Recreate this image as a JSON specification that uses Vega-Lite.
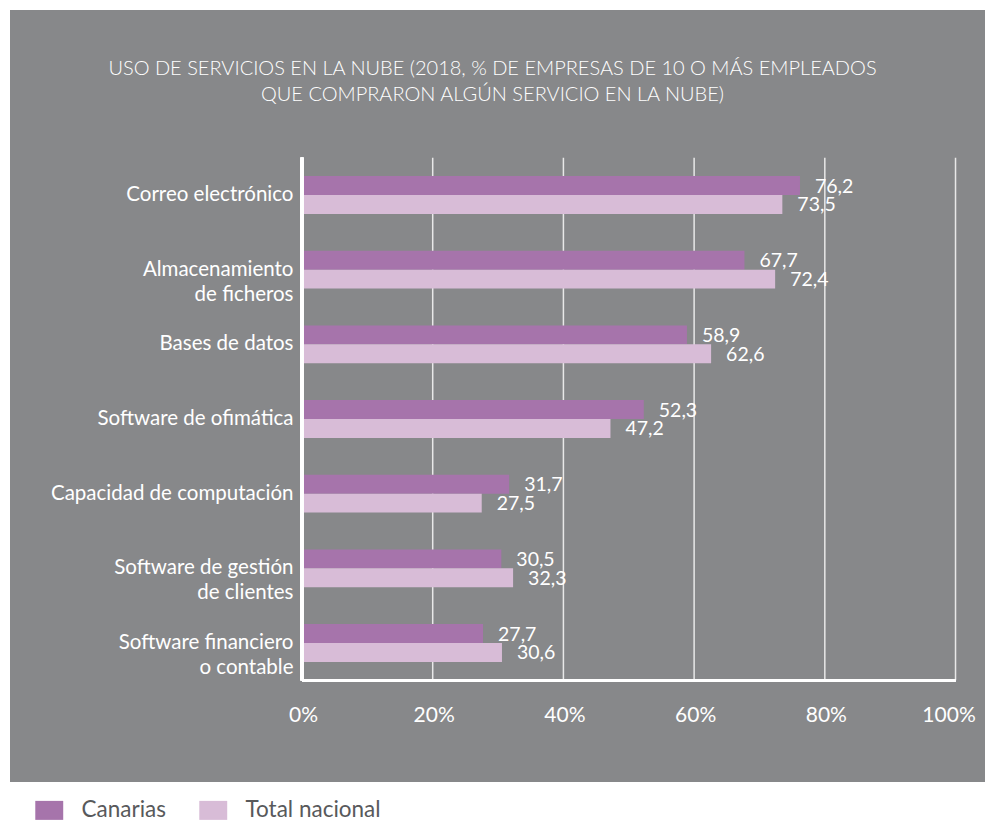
{
  "$schema": "https://vega.github.io/schema/vega-lite/v6.json",
  "width": 975,
  "height": 772,
  "autosize": {"type": "none"},
  "padding": {"left": 10, "top": 10, "right": 0, "bottom": 39},
  "background": "white",
  "config": {
    "locale": {"number": {"decimal": ",", "thousands": ".", "grouping": [3], "currency": ["", " €"]}},
    "view": {"fill": "#87888a", "stroke": null},
    "font": "Lato"
  },
  "title": {
    "text": ["USO DE SERVICIOS EN LA NUBE (2018, % DE EMPRESAS DE 10 O MÁS EMPLEADOS", "QUE COMPRARON ALGÚN SERVICIO EN LA NUBE)"],
    "color": "white",
    "fontSize": 20,
    "fontWeight": 300,
    "font": "Lato",
    "anchor": "middle",
    "frame": "group",
    "offset": -95,
    "dx": -5,
    "lineHeight": 26
  },
  "data": {
    "values": [
      {"cat": "Correo electrónico", "serie": "Canarias", "v": 76.2},
      {"cat": "Correo electrónico", "serie": "Total nacional", "v": 73.5},
      {"cat": "Almacenamiento|de ficheros", "serie": "Canarias", "v": 67.7},
      {"cat": "Almacenamiento|de ficheros", "serie": "Total nacional", "v": 72.4},
      {"cat": "Bases de datos", "serie": "Canarias", "v": 58.9},
      {"cat": "Bases de datos", "serie": "Total nacional", "v": 62.6},
      {"cat": "Software de ofimática", "serie": "Canarias", "v": 52.3},
      {"cat": "Software de ofimática", "serie": "Total nacional", "v": 47.2},
      {"cat": "Capacidad de computación", "serie": "Canarias", "v": 31.7},
      {"cat": "Capacidad de computación", "serie": "Total nacional", "v": 27.5},
      {"cat": "Software de gestión|de clientes", "serie": "Canarias", "v": 30.5},
      {"cat": "Software de gestión|de clientes", "serie": "Total nacional", "v": 32.3},
      {"cat": "Software financiero|o contable", "serie": "Canarias", "v": 27.7},
      {"cat": "Software financiero|o contable", "serie": "Total nacional", "v": 30.6}
    ]
  },
  "layer": [
    {
      "data": {"values": [{"g": 20}, {"g": 40}, {"g": 60}, {"g": 80}, {"g": 100}]},
      "mark": {"type": "rule", "color": "#e8e8e8", "strokeWidth": 1.5},
      "encoding": {
        "x": {"field": "g", "type": "quantitative", "title": null},
        "y": {"datum": "Correo electrónico", "type": "nominal", "bandPosition": 0, "title": null},
        "y2": {"datum": "Software financiero|o contable", "bandPosition": 1}
      }
    },
    {
      "mark": {"type": "bar"},
      "encoding": {
        "y": {
          "field": "cat",
          "type": "nominal",
          "sort": null,
          "title": null,
          "scale": {
            "domain": ["Correo electrónico", "Almacenamiento|de ficheros", "Bases de datos", "Software de ofimática", "Capacidad de computación", "Software de gestión|de clientes", "Software financiero|o contable"],
            "range": [147.7, 670.3],
            "paddingInner": 0,
            "paddingOuter": 0,
            "round": false
          },
          "axis": {
            "title": null,
            "offset": -292,
            "domain": false,
            "ticks": false,
            "grid": false,
            "labelPadding": 9,
            "labelColor": "white",
            "labelFontSize": 20.5,
            "labelFont": "Lato",
            "labelLimit": 0,
            "labelLineHeight": 25,
            "labelExpr": "split(datum.label, '|')",
            "zindex": 2
          }
        },
        "yOffset": {
          "field": "serie",
          "type": "nominal",
          "sort": ["Canarias", "Total nacional"],
          "scale": {"paddingInner": 0, "paddingOuter": 0.974}
        },
        "x": {
          "field": "v",
          "type": "quantitative",
          "title": null,
          "scale": {"domain": [-44.68, 104.51], "nice": false, "zero": false},
          "axis": {
            "title": null,
            "offset": -102,
            "values": [0, 20, 40, 60, 80, 100],
            "labelExpr": "datum.value + '%'",
            "domain": false,
            "ticks": false,
            "grid": false,
            "labelFlush": false,
            "labelPadding": 24,
            "labelColor": "white",
            "labelFontSize": 21,
            "labelFont": "Lato",
            "labelOffset": {"condition": {"test": "datum.value == 100", "value": -7}, "value": 1},
            "zindex": 2
          }
        },
        "x2": {"datum": 0},
        "color": {
          "field": "serie",
          "type": "nominal",
          "scale": {"domain": ["Canarias", "Total nacional"], "range": ["#a674ab", "#d8bcd7"]},
          "legend": {
            "orient": "none",
            "legendX": 28,
            "legendY": 789,
            "direction": "horizontal",
            "title": null,
            "padding": 0,
            "symbolType": "M-1.47,-1H1.47V1H-1.47Z",
            "symbolSize": 361,
            "symbolStrokeWidth": 0,
            "symbolOpacity": 1,
            "labelFontSize": 22.5,
            "labelFont": "Lato",
            "labelColor": "#58595b",
            "labelOffset": 21,
            "columnPadding": 33
          }
        }
      }
    },
    {
      "mark": {"type": "text", "align": "left", "baseline": "middle", "dx": 15, "dy": 1, "color": "white", "fontSize": 19.5, "font": "Lato"},
      "encoding": {
        "y": {"field": "cat", "type": "nominal", "sort": null, "title": null},
        "yOffset": {"field": "serie", "type": "nominal", "sort": ["Canarias", "Total nacional"]},
        "x": {"field": "v", "type": "quantitative", "title": null},
        "text": {"field": "v", "type": "quantitative", "format": ".1f"}
      }
    },
    {
      "mark": {"type": "rule", "color": "white", "strokeWidth": 3},
      "encoding": {
        "x": {"datum": 0, "type": "quantitative", "title": null},
        "y": {"datum": "Correo electrónico", "type": "nominal", "bandPosition": 0, "title": null},
        "y2": {"datum": "Software financiero|o contable", "bandPosition": 1}
      }
    },
    {
      "mark": {"type": "rule", "color": "white", "strokeWidth": 2.5},
      "encoding": {
        "x": {"datum": 0, "type": "quantitative", "title": null},
        "x2": {"datum": 100},
        "y": {"datum": "Software financiero|o contable", "type": "nominal", "bandPosition": 1, "title": null}
      }
    }
  ]
}
